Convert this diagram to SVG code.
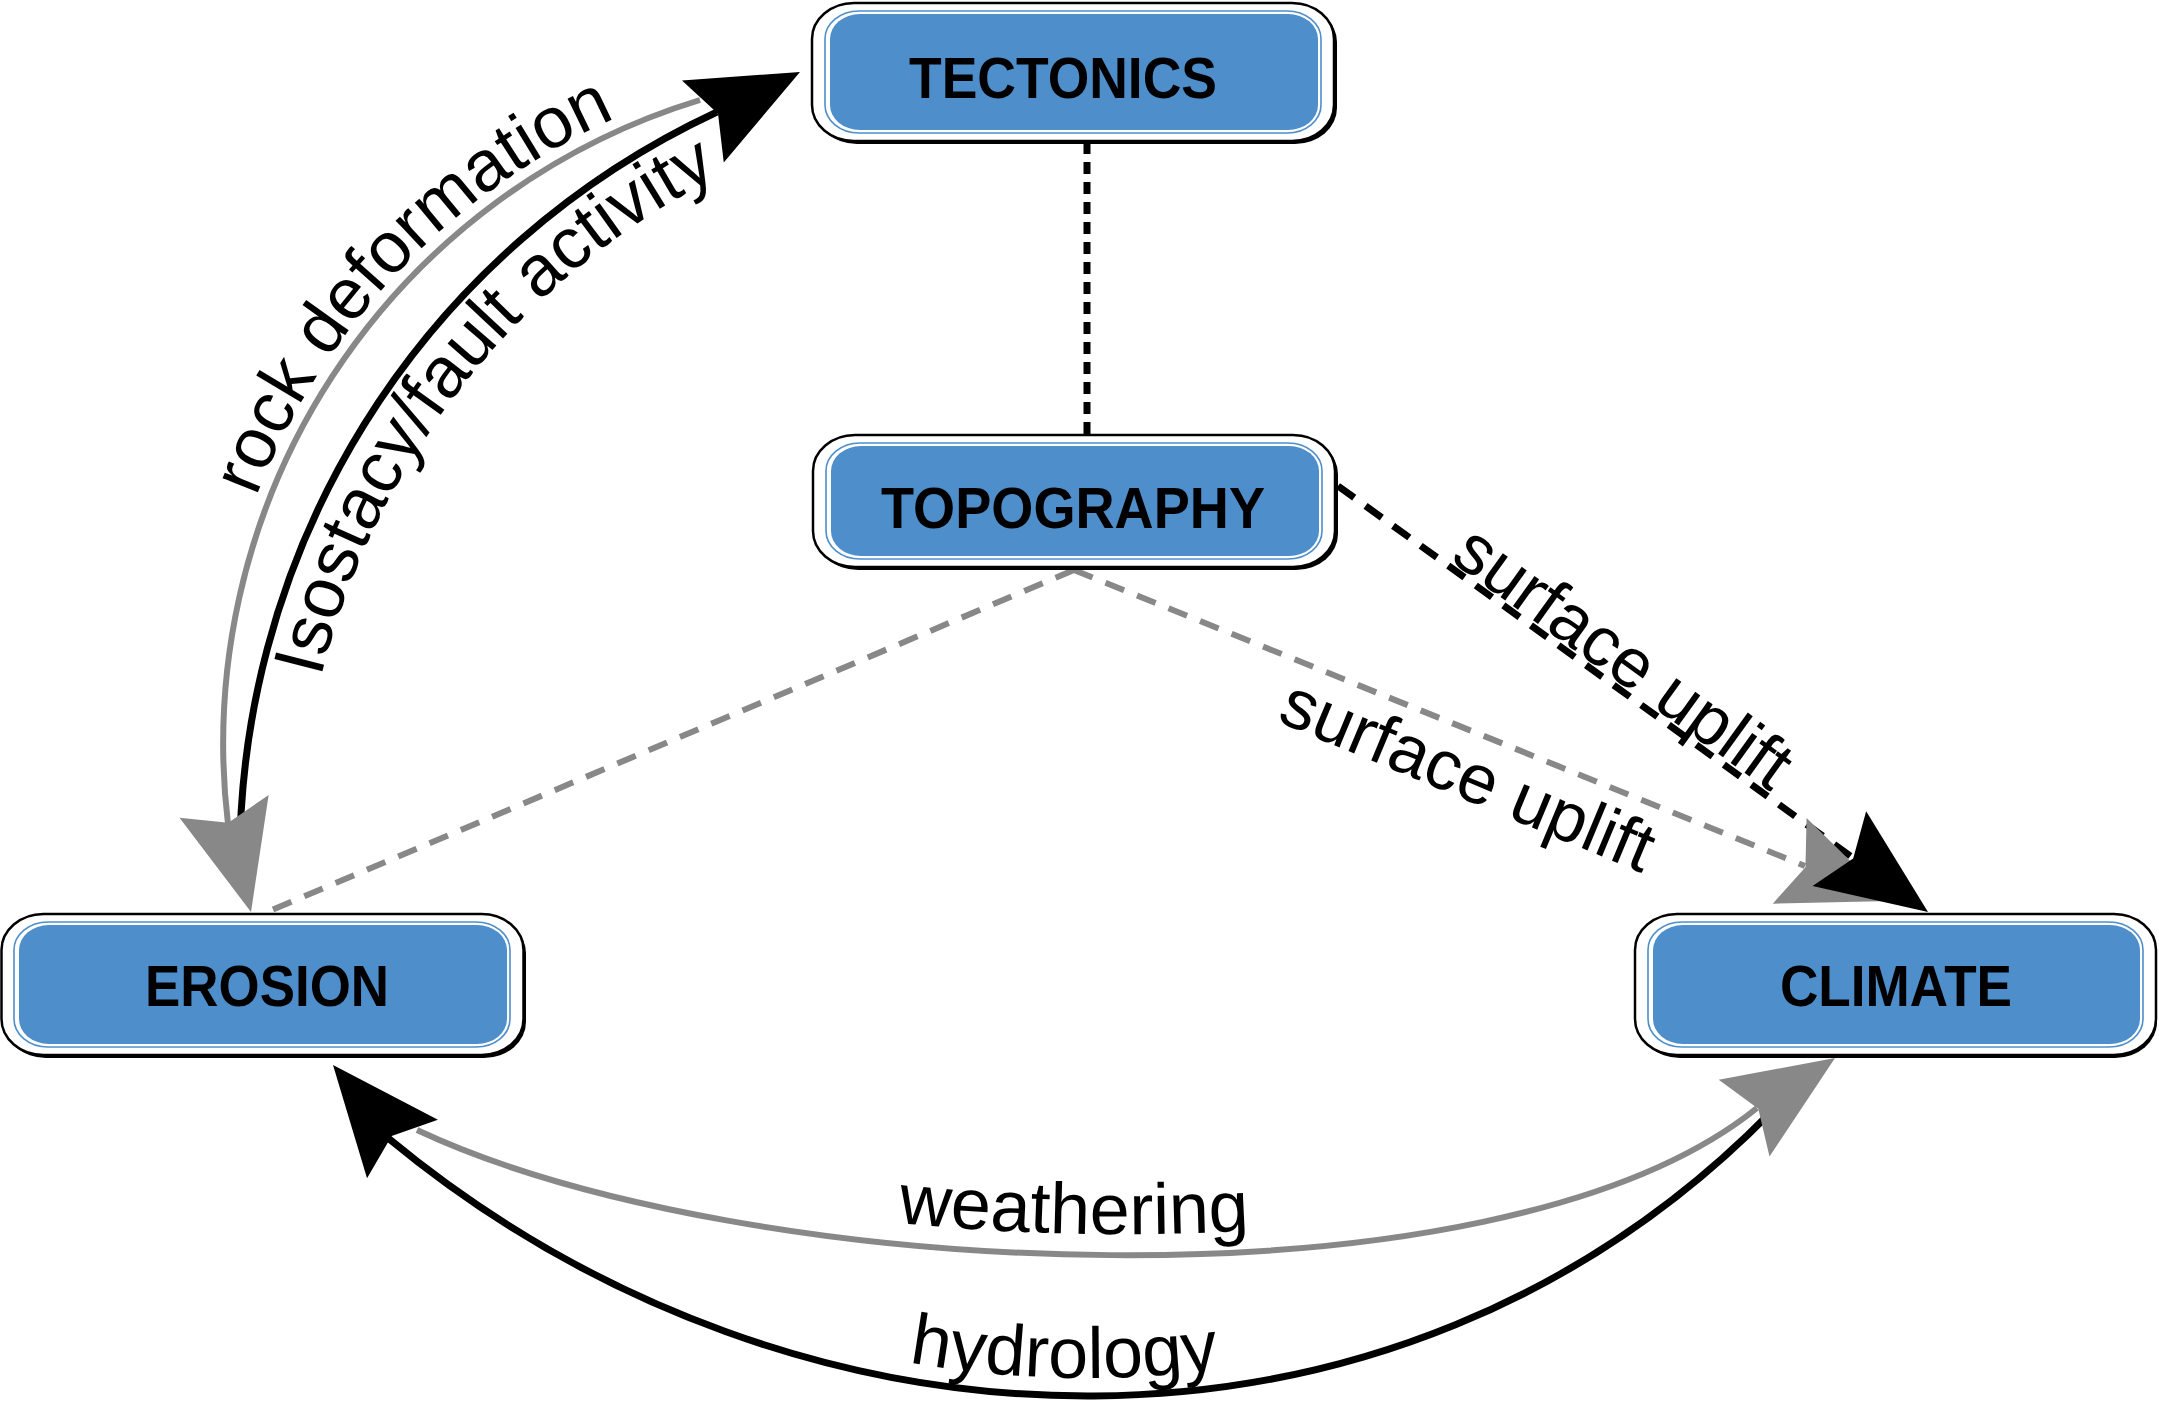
<svg xmlns="http://www.w3.org/2000/svg" xmlns:xlink="http://www.w3.org/1999/xlink" width="2159" height="1409" viewBox="0 0 2159 1409">
<style>
.shadow{fill:#000}
.outer{fill:#fff;stroke:#000;stroke-width:2.5}
.ring{fill:none;stroke:#4d8ecb;stroke-width:1.6}
.fill{fill:#4d8ecb}
.nl{font-family:"Liberation Sans",Arial,sans-serif;font-weight:bold;font-size:57px;text-anchor:middle;fill:#000}
.el{font-family:"Liberation Sans",Arial,sans-serif;font-size:72px;fill:#000}
.blk{fill:none;stroke:#000;stroke-width:7}
.gry{fill:none;stroke:#888;stroke-width:6}
.dash{stroke-dasharray:20 14}
.dot{stroke-dasharray:12 8}
.ahb{fill:#000}
.ahg{fill:#888}
</style>
<defs>
<path id="ah" d="M0 0 L-109 -46 L-92 0 L-109 46 Z"/>
<path id="p-rock" d="M 229 583.9 A 686 686 0 0 1 701.2 86.2"/>
<path id="p-iso" d="M 307.2 747.1 A 766 766 0 0 1 783 146.8"/>
<path id="p-weath" d="M 417 1109 C 741 1261 1496 1298 1757 1087"/>
<path id="p-hydro" d="M 388 1120 C 800 1461 1397 1476 1772 1093"/>
</defs>
<rect width="2159" height="1409" fill="#fff"/>
<g id="connectors">
<path class="blk dot" d="M 1087 142 L 1087 435"/>
<path class="blk dash" d="M 1338 486 L 1860 863"/>
<path class="gry dash" d="M 1074 570 L 1805 866"/>
<path class="gry dash" d="M 1074 570 L 265 913"/>
<path class="blk" d="M 240 880 A 825 825 0 0 1 717 112"/>
<path class="gry" d="M 700 100 A 673 673 0 0 0 228 824"/>
<path class="blk" d="M 1772 1111 C 1397 1494 800 1479 388 1138"/>
<path class="gry" d="M 417 1130 C 741 1282 1496 1319 1757 1108"/>
<use href="#ah" class="ahg" transform="translate(1891 901) rotate(21.6)"/>
<use href="#ah" class="ahb" transform="translate(1928 912) rotate(35.6)"/>
<use href="#ah" class="ahg" transform="translate(251 912) rotate(75.7)"/>
<use href="#ah" class="ahb" transform="translate(800 72) rotate(-27)"/>
<use href="#ah" class="ahb" transform="translate(333 1065) rotate(230.4)"/>
<use href="#ah" class="ahg" transform="translate(1835 1058) rotate(-33.5)"/>
<text class="el"><textPath href="#p-rock" startOffset="50%" text-anchor="middle">rock deformation</textPath></text>
<text class="el"><textPath href="#p-iso" startOffset="50%" text-anchor="middle">Isostacy/fault activity</textPath></text>
<text class="el"><textPath href="#p-weath" startOffset="48.6%" text-anchor="middle">weathering</textPath></text>
<text class="el"><textPath href="#p-hydro" startOffset="48.4%" text-anchor="middle">hydrology</textPath></text>
<text class="el" style="font-size:70px" text-anchor="middle" transform="translate(1610 676) rotate(35.8)">surface uplift</text>
<text class="el" style="font-size:70px" text-anchor="middle" transform="translate(1459 797) rotate(22.6)">surface uplift</text>
</g>
<g id="tectonics">
<rect class="shadow" x="815" y="6" width="522" height="138" rx="42" ry="36"/>
<rect class="outer" x="812" y="3" width="522" height="138" rx="42" ry="36"/>
<rect class="ring" x="825" y="11" width="496" height="122" rx="34" ry="28"/>
<rect class="fill" x="830" y="14" width="488" height="116" rx="30" ry="25"/>
<text class="nl" x="1063" y="98" textLength="308" lengthAdjust="spacingAndGlyphs">TECTONICS</text>
</g>
<g id="topography">
<rect class="shadow" x="816" y="438" width="522" height="132" rx="42" ry="36"/>
<rect class="outer" x="813" y="435" width="522" height="132" rx="42" ry="36"/>
<rect class="ring" x="826" y="443" width="496" height="116" rx="34" ry="28"/>
<rect class="fill" x="831" y="446" width="488" height="110" rx="30" ry="25"/>
<text class="nl" x="1073" y="528" textLength="384" lengthAdjust="spacingAndGlyphs">TOPOGRAPHY</text>
</g>
<g id="erosion">
<rect class="shadow" x="4" y="917" width="522" height="141" rx="42" ry="36"/>
<rect class="outer" x="1.5" y="914" width="522" height="141" rx="42" ry="36"/>
<rect class="ring" x="14" y="922" width="496" height="125" rx="34" ry="28"/>
<rect class="fill" x="19" y="925" width="488" height="119" rx="30" ry="25"/>
<text class="nl" x="267" y="1006" textLength="244" lengthAdjust="spacingAndGlyphs">EROSION</text>
</g>
<g id="climate">
<rect class="shadow" x="1638" y="917" width="519" height="141" rx="42" ry="36"/>
<rect class="outer" x="1635" y="914" width="521" height="141" rx="42" ry="36"/>
<rect class="ring" x="1648" y="922" width="495" height="125" rx="34" ry="28"/>
<rect class="fill" x="1653" y="925" width="487" height="119" rx="30" ry="25"/>
<text class="nl" x="1896" y="1006" textLength="232" lengthAdjust="spacingAndGlyphs">CLIMATE</text>
</g>
</svg>
